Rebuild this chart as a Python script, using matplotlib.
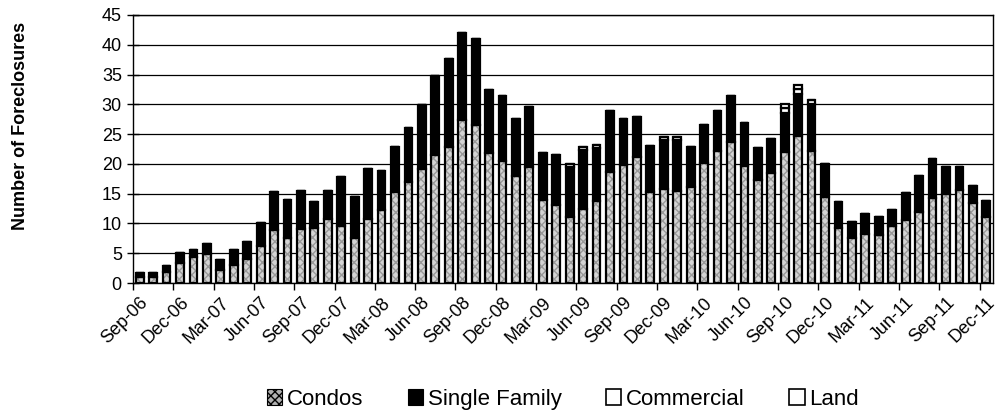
import matplotlib.pyplot as plt
import numpy as np
from matplotlib.patches import Patch

plt.rcParams["font.family"] = ["Liberation Sans", "DejaVu Sans"]

# Monthly foreclosures, Sep-06 .. Dec-11
start_year, start_month, n_months = 2006, 9, 64
month_names = ["Jan", "Feb", "Mar", "Apr", "May", "Jun", "Jul", "Aug", "Sep", "Oct", "Nov", "Dec"]
months = []
for k in range(n_months):
    m = (start_month - 1 + k) % 12
    y = start_year + (start_month - 1 + k) // 12
    months.append(f"{month_names[m]}-{y % 100:02d}")

condos = [1.0, 1.0, 1.8, 3.4, 4.4, 4.9, 2.1, 3.0, 4.1, 6.2,
          8.9, 7.5, 9.1, 9.3, 10.8, 9.5, 7.5, 10.8, 12.3, 15.2,
          17.0, 19.2, 21.5, 22.9, 27.4, 26.5, 21.8, 20.5, 18.0, 19.5,
          13.9, 13.1, 11.0, 12.5, 13.7, 18.7, 19.8, 21.2, 15.2, 15.7,
          15.4, 16.1, 20.2, 22.2, 23.7, 19.7, 17.3, 18.4, 22.0, 24.6,
          22.1, 14.5, 9.2, 7.6, 8.3, 8.1, 9.5, 10.5, 12.0, 14.2,
          14.9, 15.6, 13.4, 11.1]
single_family = [0.7, 0.7, 1.0, 1.6, 1.1, 1.6, 1.7, 2.5, 2.8, 3.8,
                 6.3, 6.4, 6.4, 4.3, 4.7, 8.3, 7.0, 8.3, 6.5, 7.6,
                 9.1, 10.7, 13.3, 14.7, 14.6, 14.5, 10.6, 10.9, 9.5, 10.0,
                 8.0, 8.4, 8.5, 9.9, 9.0, 10.1, 7.7, 6.7, 7.8, 8.3,
                 8.6, 6.8, 6.3, 6.6, 7.7, 7.1, 5.3, 5.8, 6.6, 7.2,
                 8.0, 5.5, 4.4, 2.7, 3.3, 3.0, 2.7, 4.6, 5.9, 6.6,
                 4.6, 3.9, 2.9, 2.7]
commercial = [0.0] * 64
land = [0.0] * 64
for i in (32, 33, 34, 39, 40):
    commercial[i] = 0.5
for i in (48, 49, 50):
    commercial[i] = 0.7
for i in (48, 49):
    land[i] = 0.7

x = np.arange(len(months))
condos = np.array(condos)
single_family = np.array(single_family)
commercial = np.array(commercial)
land = np.array(land)

fig = plt.figure(figsize=(9.96, 4.16), dpi=100)
ax = fig.add_axes([0.1335, 0.3197, 0.8635, 0.6443])

width = 0.58
edge_lw = 1.6
# condos: light hatched fill, then black outline on top
ax.bar(x, condos, width, color="#d4d4d4", edgecolor="#999999", hatch="xxxx", linewidth=0, zorder=2)
ax.bar(x, condos, width, fill=False, edgecolor="black", linewidth=edge_lw, zorder=3)
ax.bar(x, single_family, width, bottom=condos, color="black", edgecolor="black", linewidth=edge_lw, zorder=3)
ax.bar(x, commercial, width, bottom=condos + single_family, color="white", edgecolor="black", linewidth=edge_lw, zorder=3)
ax.bar(x, land, width, bottom=condos + single_family + commercial, color="white", edgecolor="black", linewidth=edge_lw, zorder=3)

ax.set_ylim(0, 45)
ax.set_xlim(-0.5, len(months) - 0.5)
ax.set_yticks(np.arange(0, 46, 5))
ax.yaxis.grid(True, color="black", linewidth=0.9, zorder=0)
ax.set_axisbelow(True)
ax.tick_params(axis="y", direction="inout", length=8, width=1, labelsize=13, pad=4)

ax.set_xticks(x[::3])
ax.set_xticklabels(months[::3], rotation=45, ha="right", va="top", rotation_mode="anchor", fontsize=13)
ax.tick_params(axis="x", which="major", length=0, pad=8)
ax.set_xticks(np.arange(-0.5, len(months), 3), minor=True)
ax.tick_params(axis="x", which="minor", direction="out", length=5, width=1)

for side in ("left", "bottom", "right", "top"):
    ax.spines[side].set_color("black")
    ax.spines[side].set_linewidth(1)

fig.text(0.021, 0.697, "Number of Foreclosures", rotation=90, ha="center", va="center",
         fontsize=13, fontweight="bold")

handles = [
    Patch(facecolor="#b0b0b0", edgecolor="black", hatch="xxxx", linewidth=0.8),
    Patch(facecolor="black", edgecolor="black", linewidth=0.8),
    Patch(facecolor="white", edgecolor="black", linewidth=1.2),
    Patch(facecolor="white", edgecolor="black", linewidth=1.2),
]
fig.legend(handles, ["Condos", "Single Family", "Commercial", "Land"], loc="center",
           bbox_to_anchor=(0.565, 0.04), ncol=4, frameon=False, fontsize=16,
           handlelength=0.7, handleheight=0.7, handletextpad=0.2, columnspacing=2.0)

fig.savefig("out.png", dpi=100)
